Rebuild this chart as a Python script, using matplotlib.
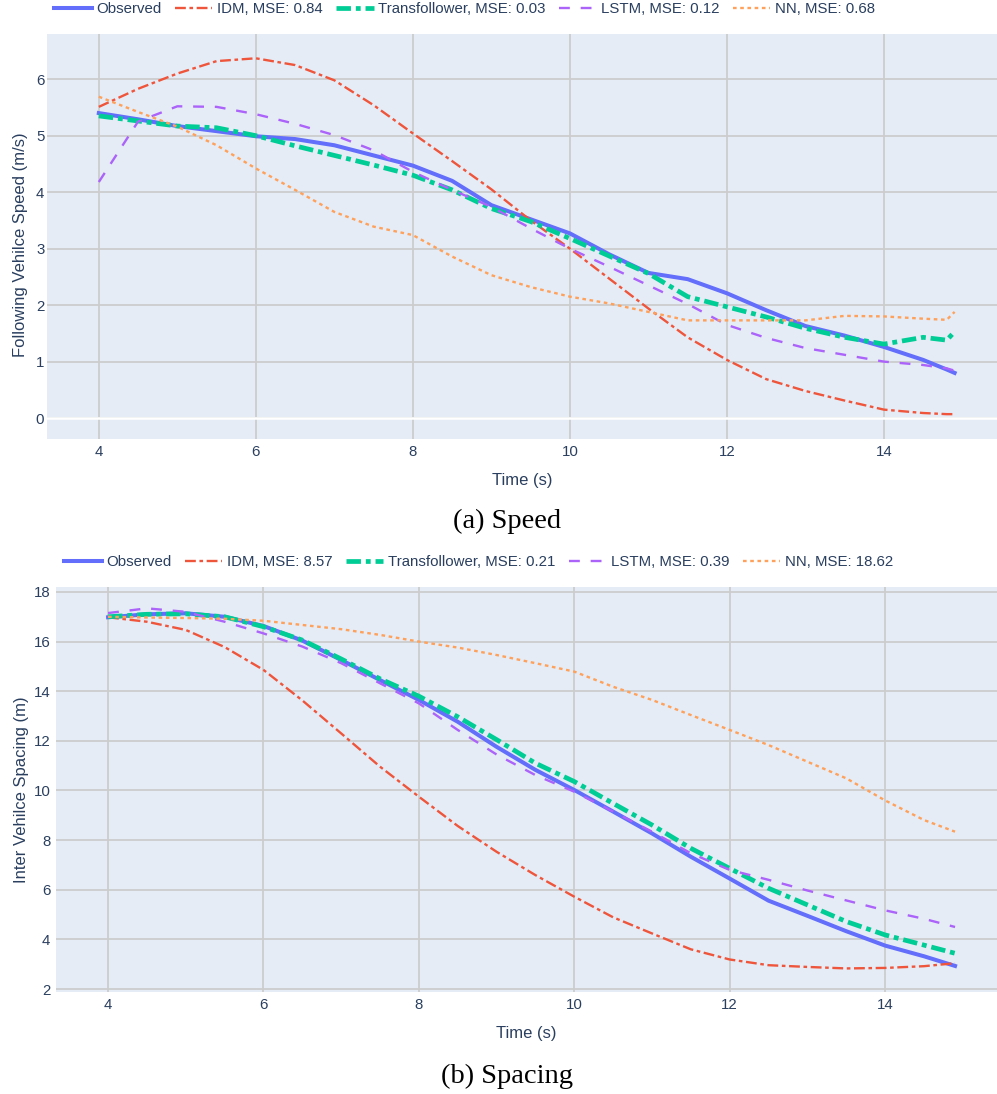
import matplotlib.pyplot as plt

plt.rcParams['font.family'] = ['Liberation Sans', 'DejaVu Sans']
plt.rcParams['lines.scale_dashes'] = False

# ---- data ----
t_speed = [4.0, 4.5, 5.0, 5.5, 6.0, 6.5, 7.0, 7.5, 8.0, 8.5, 9.0, 9.5, 10.0,
           10.5, 11.0, 11.5, 12.0, 12.5, 13.0, 13.5, 14.0, 14.5, 14.8, 14.9]
obs_speed = [5.40, 5.29, 5.17, 5.08, 4.99, 4.94, 4.83, 4.65, 4.47, 4.20, 3.77, 3.52,
             3.27, 2.90, 2.57, 2.46, 2.21, 1.91, 1.63, 1.46, 1.26, 1.03, 0.86, 0.80]
idm_speed = [5.51, 5.83, 6.10, 6.32, 6.37, 6.25, 5.98, 5.54, 5.04, 4.55, 4.05, 3.50,
             3.00, 2.47, 1.94, 1.43, 1.03, 0.69, 0.48, 0.31, 0.15, 0.09, 0.07, 0.07]
tf_speed = [5.35, 5.26, 5.17, 5.14, 5.00, 4.82, 4.65, 4.48, 4.30, 4.04, 3.71, 3.48,
            3.18, 2.87, 2.56, 2.15, 1.97, 1.79, 1.59, 1.43, 1.31, 1.43, 1.38, 1.53]
lstm_speed = [4.18, 5.25, 5.52, 5.51, 5.38, 5.21, 5.01, 4.74, 4.36, 4.04, 3.74, 3.36,
              3.00, 2.68, 2.35, 2.02, 1.65, 1.42, 1.24, 1.12, 1.00, 0.94, 0.88, 0.84]
nn_speed = [5.69, 5.42, 5.16, 4.83, 4.42, 4.04, 3.65, 3.39, 3.24, 2.86, 2.53, 2.32,
            2.15, 2.03, 1.88, 1.73, 1.73, 1.73, 1.73, 1.81, 1.80, 1.76, 1.74, 1.88]

t_spacing = [4.0, 4.5, 5.0, 5.5, 6.0, 6.5, 7.0, 7.5, 8.0, 8.5, 9.0, 9.5, 10.0,
             10.5, 11.0, 11.5, 12.0, 12.5, 13.0, 13.5, 14.0, 14.5, 14.9]
obs_spacing = [16.98, 17.10, 17.14, 17.00, 16.63, 16.04, 15.26, 14.45, 13.65, 12.77, 11.76, 10.83,
               10.02, 9.15, 8.27, 7.33, 6.45, 5.56, 4.95, 4.33, 3.75, 3.32, 2.93]
idm_spacing = [16.98, 16.80, 16.47, 15.78, 14.86, 13.63, 12.30, 10.96, 9.75, 8.57, 7.53, 6.59,
               5.72, 4.89, 4.24, 3.60, 3.19, 2.96, 2.89, 2.83, 2.85, 2.92, 3.04]
tf_spacing = [17.00, 17.10, 17.12, 17.00, 16.60, 16.06, 15.30, 14.50, 13.80, 12.97, 12.05, 11.10,
              10.36, 9.48, 8.61, 7.67, 6.86, 6.06, 5.39, 4.72, 4.18, 3.77, 3.44]
lstm_spacing = [17.15, 17.34, 17.20, 16.80, 16.33, 15.80, 15.13, 14.32, 13.51, 12.44, 11.45, 10.62,
                9.95, 9.15, 8.34, 7.47, 6.80, 6.40, 5.97, 5.57, 5.17, 4.83, 4.50]
nn_spacing = [17.00, 16.97, 16.95, 16.92, 16.84, 16.67, 16.50, 16.27, 16.00, 15.76, 15.46, 15.13,
              14.79, 14.18, 13.65, 13.04, 12.44, 11.83, 11.16, 10.49, 9.60, 8.81, 8.34]

speed_labels = ['Observed', 'IDM, MSE: 0.84', 'Transfollower, MSE: 0.03',
                'LSTM, MSE: 0.12', 'NN, MSE: 0.68']
spacing_labels = ['Observed', 'IDM, MSE: 8.57', 'Transfollower, MSE: 0.21',
                  'LSTM, MSE: 0.39', 'NN, MSE: 18.62']

colors = ['#636EFA', '#EF553B', '#00CC96', '#AB63FA', '#FFA15A']
widths = [2.9, 1.7, 3.4, 1.7, 1.7]
styles = ['-', (0, (7.8, 2.6, 2.6, 2.6)), (0, (10.4, 3.5, 3.5, 3.5)),
          (0, (7.8, 7.8)), (0, (2.6, 2.6))]

W, H = 997, 1094
fig = plt.figure(figsize=(W / 100, H / 100), dpi=100)
txt = '#2a3f5f'
fs = 10.8


def make_panel(rect, t, series, labels, xlim, ylim, yticks, ylabel, leg_xy, ypad):
    ax = fig.add_axes(rect)
    ax.set_facecolor('#E5ECF6')
    for s in ax.spines.values():
        s.set_visible(False)
    for y, c, lw, ls, lab in zip(series, colors, widths, styles, labels):
        ax.plot(t, y, color=c, lw=lw, linestyle=ls, label=lab, zorder=3)
    ax.set_xlim(*xlim)
    ax.set_ylim(*ylim)
    ax.set_xticks([4, 6, 8, 10, 12, 14])
    ax.set_yticks(yticks)
    ax.grid(True, color='#cccccc', lw=1.3, zorder=0)
    ax.set_axisbelow(True)
    ax.tick_params(axis='x', length=0, pad=4, labelsize=fs, labelcolor=txt)
    ax.tick_params(axis='y', length=0, pad=ypad, labelsize=fs, labelcolor=txt)
    ax.set_xlabel('Time (s)', fontsize=12, color=txt)
    ax.set_ylabel(ylabel, fontsize=12, color=txt)
    ax.xaxis.set_label_coords(0.5, -0.083)
    h, l = ax.get_legend_handles_labels()
    fig.legend(h, l, loc='center left', bbox_to_anchor=leg_xy, ncol=5, frameon=False,
               fontsize=fs, labelcolor=txt, handlelength=2.5, handletextpad=0.33,
               columnspacing=0.87, borderpad=0, borderaxespad=0)
    return ax


ax1 = make_panel([47 / W, 1 - 439 / H, 950 / W, 405 / H], t_speed,
                 [obs_speed, idm_speed, tf_speed, lstm_speed, nn_speed], speed_labels,
                 (3.34, 15.44), (-0.37, 6.8), [0, 1, 2, 3, 4, 5, 6],
                 'Following Vehilce Speed (m/s)', (54 / W, 1 - 9 / H), 2)
ax1.axhline(0, color='white', lw=1.8, zorder=1)
ax1.yaxis.set_label_coords(-0.020, 0.48)

ax2 = make_panel([56 / W, 1 - 992 / H, 941 / W, 405 / H], t_spacing,
                 [obs_spacing, idm_spacing, tf_spacing, lstm_spacing, nn_spacing], spacing_labels,
                 (3.33, 15.44), (1.88, 18.2), [2, 4, 6, 8, 10, 12, 14, 16, 18],
                 'Inter Vehilce Spacing (m)', (64 / W, 1 - 562 / H), 4)
ax2.yaxis.set_label_coords(-0.029, 0.5)

fig.text(507 / W, 1 - 521 / H, '(a) Speed', ha='center', va='center',
         family='Liberation Serif', fontsize=20.5, color='black')
fig.text(507 / W, 1 - 1076 / H, '(b) Spacing', ha='center', va='center',
         family='Liberation Serif', fontsize=20.5, color='black')

fig.savefig('out.png', dpi=100)
